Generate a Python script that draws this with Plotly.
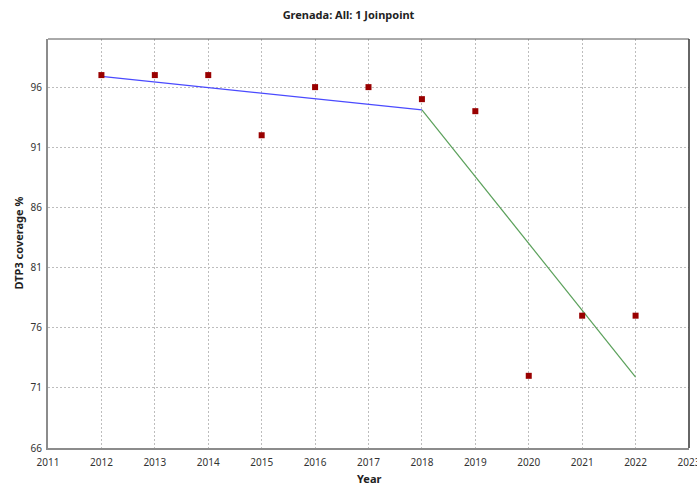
import plotly.graph_objects as go

# Observed DTP3 coverage by year
years = [2012, 2013, 2014, 2015, 2016, 2017, 2018, 2019, 2020, 2021, 2022]
coverage = [97, 97, 97, 92, 96, 96, 95, 94, 72, 77, 77]

# Joinpoint model: segment 1 (2012-2018) and segment 2 (2018-2022)
seg1_years = [2012, 2018]
seg1_fit = [96.9, 94.1]
seg2_years = [2018, 2022]
seg2_fit = [94.1, 71.9]

x_ticks = list(range(2011, 2024))
y_ticks = [66, 71, 76, 81, 86, 91, 96]

FONT = "Noto Sans"

fig = go.Figure()
fig.add_trace(go.Scatter(x=seg1_years, y=seg1_fit, mode="lines",
                         line=dict(color="#4a4aff", width=1.2), showlegend=False))
fig.add_trace(go.Scatter(x=seg2_years, y=seg2_fit, mode="lines",
                         line=dict(color="#5aa05a", width=1.2), showlegend=False))
fig.add_trace(go.Scatter(x=years, y=coverage, mode="markers",
                         marker=dict(symbol="square", size=6, color="#990000",
                                     line=dict(width=0)),
                         showlegend=False))

axis_common = dict(
    showgrid=True, gridcolor="#bdbdbd", griddash="2px,2px", gridwidth=1,
    zeroline=False, showline=True, linecolor="#8c8c8c", linewidth=2,
    ticks="", automargin=False,
    tickfont=dict(family=FONT, size=10, color="#333333"),
)

fig.update_layout(
    width=697, height=486,
    margin=dict(l=48, r=8, t=39, b=38),
    paper_bgcolor="white", plot_bgcolor="white",
    xaxis=dict(range=[2011, 2023], tickvals=x_ticks, ticklabelstandoff=4,
               ticklabeloverflow="allow", **axis_common),
    yaxis=dict(range=[66, 100], tickvals=y_ticks, ticklabelstandoff=2, **axis_common),
    title=dict(text="<b>Grenada: All: 1 Joinpoint</b>", x=0.5, xanchor="center",
               y=1 - 15 / 486, yanchor="middle", yref="container",
               font=dict(family=FONT, size=11, color="#222222")),
    shapes=[
        dict(type="line", xref="paper", yref="paper", x0=0, x1=1, y0=1, y1=1,
             line=dict(color="#555555", width=1)),
        dict(type="line", xref="paper", yref="paper", x0=1, x1=1, y0=0, y1=1,
             line=dict(color="#333333", width=1.5)),
    ],
    annotations=[
        dict(text="<b>Year</b>", xref="paper", yref="paper", x=0.5, y=-30 / 409,
             xanchor="center", yanchor="middle", showarrow=False,
             font=dict(family=FONT, size=11, color="#222222")),
        dict(text="<b>DTP3 coverage %</b>", xref="paper", yref="paper",
             x=-30 / 641, y=0.5, xanchor="center", yanchor="middle",
             textangle=-90, showarrow=False,
             font=dict(family=FONT, size=11, color="#222222")),
    ],
)

fig.write_html("out.html")
